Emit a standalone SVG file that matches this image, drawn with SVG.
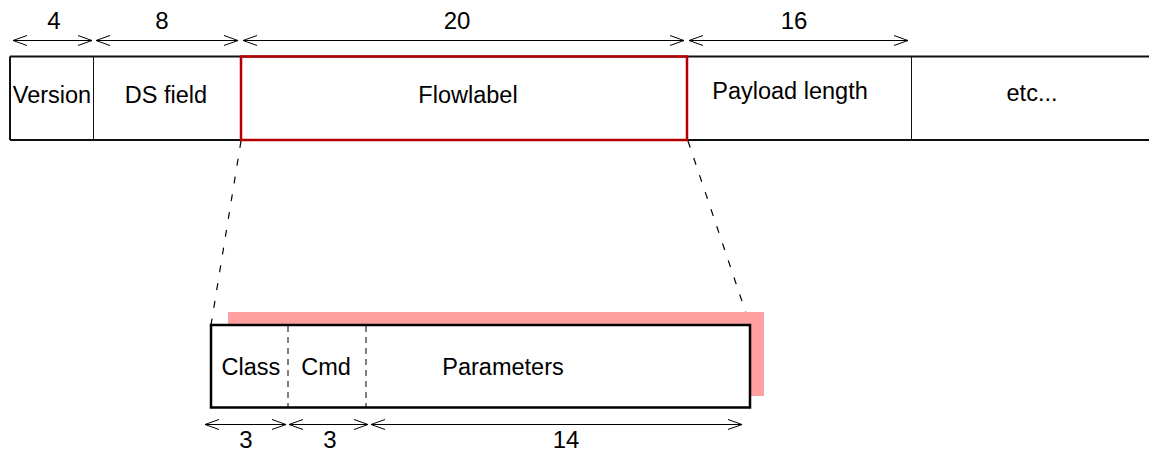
<svg xmlns="http://www.w3.org/2000/svg" width="1149" height="453" viewBox="0 0 1149 453">
  <style>
    .lbl { font-family: "Liberation Sans", Arial, sans-serif; font-size: 23.5px; fill: #000; text-anchor: middle; }
    .num { font-family: "Liberation Sans", Arial, sans-serif; font-size: 24px; fill: #000; text-anchor: middle; }
    .dim { stroke: #000; stroke-width: 1; fill: none; marker-start: url(#ah); marker-end: url(#ah); }
    .thick { stroke: #111; stroke-width: 2; fill: none; }
    .thin { stroke: #111; stroke-width: 1; fill: none; }
    .zoomline { stroke: #000; stroke-width: 1.2; stroke-dasharray: 7 11; fill: none; }
    .sub { stroke: #000; stroke-width: 1; stroke-dasharray: 6 5; fill: none; }
  </style>
  <defs>
    <marker id="ah" viewBox="0 0 15 11" refX="14" refY="5.5" markerWidth="15" markerHeight="11" markerUnits="userSpaceOnUse" orient="auto-start-reverse">
      <path d="M0,0.5 L14,5.5 L0,10.5" fill="none" stroke="#000" stroke-width="1"/>
    </marker>
  </defs>
  <rect width="1149" height="453" fill="#fff"/>

  <!-- dimension arrows (top) -->
  <g id="dims-top">
    <line class="dim" x1="13" y1="40.5" x2="92" y2="40.5"/>
    <line class="dim" x1="96" y1="40.5" x2="238" y2="40.5"/>
    <line class="dim" x1="243" y1="40.5" x2="684" y2="40.5"/>
    <line class="dim" x1="689" y1="40.5" x2="908" y2="40.5"/>
    <text class="num" x="54" y="29">4</text>
    <text class="num" x="162" y="29">8</text>
    <text class="num" x="457" y="29">20</text>
    <text class="num" x="794" y="29">16</text>
  </g>

  <!-- header -->
  <g id="header">
    <line class="thick" x1="10" y1="56.5" x2="1149" y2="56.5"/>
    <line class="thick" x1="10" y1="140" x2="1149" y2="140"/>
    <line class="thick" x1="10" y1="56.5" x2="10" y2="140"/>
  </g>
  <g id="version">
    <text class="lbl" x="52" y="103">Version</text>
  </g>
  <g id="ds-field">
    <line class="thin" x1="93.5" y1="56" x2="93.5" y2="141"/>
    <text class="lbl" x="166" y="103">DS field</text>
  </g>
  <g id="payload-length">
    <line class="thin" x1="911.5" y1="56" x2="911.5" y2="140"/>
    <text class="lbl" x="790" y="99">Payload length</text>
  </g>
  <g id="etc">
    <text class="lbl" x="1032" y="101">etc...</text>
  </g>
  <g id="flowlabel">
    <rect x="241" y="56.5" width="446" height="83.5" fill="none" stroke="#b20000" stroke-width="2.5"/>
    <text class="lbl" x="468" y="103">Flowlabel</text>
  </g>

  <!-- zoom connectors -->
  <g id="connectors">
    <line class="zoomline" x1="241" y1="141" x2="211" y2="325"/>
    <line class="zoomline" x1="688" y1="141" x2="750" y2="325"/>
  </g>

  <!-- expanded flowlabel -->
  <g id="flowlabel-detail">
    <rect x="228" y="312" width="536" height="84" fill="#ffa0a0"/>
    <rect x="211" y="325" width="539" height="82.5" fill="#fff" stroke="#000" stroke-width="2.5"/>
  </g>
  <g id="class">
    <text class="lbl" x="251" y="375">Class</text>
  </g>
  <g id="cmd">
    <line class="sub" x1="288" y1="326" x2="288" y2="407"/>
    <text class="lbl" x="326" y="375">Cmd</text>
  </g>
  <g id="parameters">
    <line class="sub" x1="366" y1="326" x2="366" y2="407"/>
    <text class="lbl" x="503" y="375">Parameters</text>
  </g>

  <!-- dimension arrows (bottom) -->
  <g id="dims-bottom">
    <line class="dim" x1="205" y1="424.5" x2="286" y2="424.5"/>
    <line class="dim" x1="289" y1="424.5" x2="368" y2="424.5"/>
    <line class="dim" x1="371" y1="424.5" x2="742" y2="424.5"/>
    <text class="num" x="246" y="448">3</text>
    <text class="num" x="330" y="448">3</text>
    <text class="num" x="566" y="448">14</text>
  </g>
</svg>
